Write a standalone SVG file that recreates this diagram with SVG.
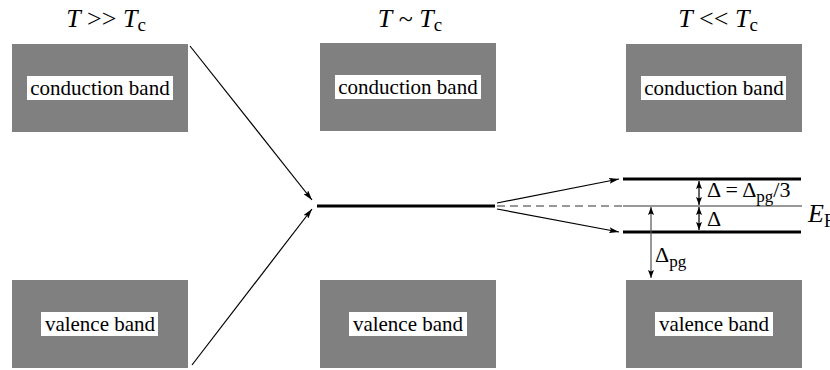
<svg xmlns="http://www.w3.org/2000/svg" width="830" height="370" viewBox="0 0 830 370" font-family="Liberation Serif, Times New Roman, serif">
  <style>
    .band { fill: #808080; }
    .tag { fill: #ffffff; }
    .conn { stroke: #000; stroke-width: 1.2; fill: none; }
    .level { stroke: #000; stroke-width: 3.2; }
  </style>
  <defs>
    <marker id="ah" viewBox="0 0 10 6" refX="10" refY="3" markerWidth="10" markerHeight="6" markerUnits="userSpaceOnUse" orient="auto-start-reverse">
      <path d="M0,0 L10,3 L0,6 L2,3 Z" fill="#000"/>
    </marker>
    <marker id="ahs" viewBox="0 0 8 6" refX="8" refY="3" markerWidth="8" markerHeight="6" markerUnits="userSpaceOnUse" orient="auto-start-reverse">
      <path d="M0,0 L8,3 L0,6 L1.5,3 Z" fill="#000"/>
    </marker>
  </defs>

  <!-- column titles -->
  <g font-size="26" text-anchor="middle" fill="#000">
    <g id="title-high">
      <text x="106" y="27"><tspan font-style="italic">T</tspan> &gt;&gt; <tspan font-style="italic">T</tspan><tspan font-size="19" dy="4">c</tspan></text>
    </g>
    <g id="title-mid">
      <text x="410" y="27"><tspan font-style="italic">T</tspan> ~ <tspan font-style="italic">T</tspan><tspan font-size="19" dy="4">c</tspan></text>
    </g>
    <g id="title-low">
      <text x="718" y="27"><tspan font-style="italic">T</tspan> &lt;&lt; <tspan font-style="italic">T</tspan><tspan font-size="19" dy="4">c</tspan></text>
    </g>
  </g>

  <g font-size="21" text-anchor="middle" fill="#000">
    <!-- bands, T >> Tc -->
    <g id="cb-high">
      <rect class="band" x="12" y="44" width="176" height="88"/>
      <rect class="tag" x="27" y="76" width="146" height="24"/>
      <text x="100" y="95">conduction band</text>
    </g>
    <g id="vb-high">
      <rect class="band" x="12" y="280" width="176" height="88"/>
      <rect class="tag" x="41" y="312" width="117" height="24"/>
      <text x="100" y="331">valence band</text>
    </g>

    <!-- bands, T ~ Tc -->
    <g id="cb-mid">
      <rect class="band" x="320" y="43" width="176" height="88"/>
      <rect class="tag" x="335" y="75" width="146" height="24"/>
      <text x="408" y="94">conduction band</text>
    </g>
    <g id="vb-mid">
      <rect class="band" x="320" y="280" width="176" height="88"/>
      <rect class="tag" x="349" y="312" width="118" height="24"/>
      <text x="408" y="331">valence band</text>
    </g>

    <!-- bands, T << Tc -->
    <g id="cb-low">
      <rect class="band" x="626" y="44" width="176" height="88"/>
      <rect class="tag" x="641" y="76" width="145" height="24"/>
      <text x="714" y="95">conduction band</text>
    </g>
    <g id="vb-low">
      <rect class="band" x="626" y="280" width="176" height="88"/>
      <rect class="tag" x="655" y="312" width="118" height="24"/>
      <text x="714" y="331">valence band</text>
    </g>
  </g>

  <!-- merged level at T ~ Tc -->
  <g id="level-mid">
    <line class="level" x1="317" y1="206" x2="495" y2="206"/>
  </g>

  <!-- split levels at T << Tc -->
  <g id="level-upper">
    <line class="level" x1="623" y1="179" x2="801" y2="179"/>
  </g>
  <g id="level-lower">
    <line class="level" x1="623" y1="232" x2="801" y2="232"/>
  </g>

  <g font-size="22" fill="#000">
    <g id="fermi">
      <line x1="623" y1="206" x2="802" y2="206" stroke="#777" stroke-width="1.3"/>
      <text x="808" y="222" font-size="26" font-style="italic">E<tspan font-size="18" dy="5" font-style="normal">F</tspan></text>
    </g>

    <!-- gap annotations -->
    <g id="gap-delta">
      <line class="conn" x1="699" y1="181" x2="699" y2="205" marker-start="url(#ahs)" marker-end="url(#ahs)"/>
      <line class="conn" x1="699" y1="207" x2="699" y2="230" marker-start="url(#ahs)" marker-end="url(#ahs)"/>
      <text x="707" y="197">Δ = Δ<tspan font-size="17" dy="5">pg</tspan><tspan dy="-5">/3</tspan></text>
      <text x="707" y="226">Δ</text>
    </g>
    <g id="gap-pg">
      <line x1="651" y1="207" x2="651" y2="278" stroke="#555" stroke-width="1.2" marker-start="url(#ahs)" marker-end="url(#ahs)"/>
      <text x="655" y="262">Δ<tspan font-size="17" dy="5">pg</tspan></text>
    </g>
  </g>

  <!-- connectors -->
  <g id="connectors">
    <line class="conn" x1="190" y1="46" x2="312" y2="200" marker-end="url(#ah)"/>
    <line class="conn" x1="192" y1="365" x2="312" y2="209" marker-end="url(#ah)"/>
    <line class="conn" x1="497" y1="203" x2="619" y2="179" marker-end="url(#ah)"/>
    <line class="conn" x1="497" y1="209" x2="619" y2="232" marker-end="url(#ah)"/>
    <line x1="497" y1="206" x2="622" y2="206" stroke="#777" stroke-width="1.3" stroke-dasharray="8 5"/>
  </g>
</svg>
